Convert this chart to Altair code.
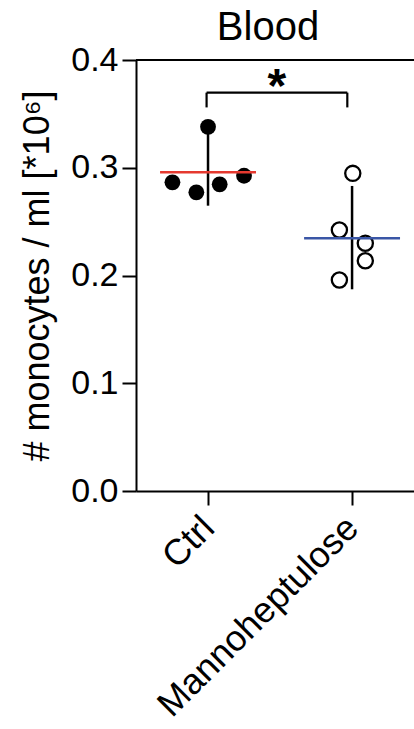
import json
import altair as alt
import pandas as pd

# ---- data ----
groups = ["Ctrl", "Mannoheptulose"]
group_pos = [0.5, 1.5]
ctrl_values = [0.338, 0.2865, 0.2772, 0.2846, 0.2926]
ctrl_jitter = [0.0, -0.247, -0.081, 0.081, 0.25]
manno_values = [0.2948, 0.2422, 0.2299, 0.2137, 0.1958]
manno_jitter = [0.005, -0.088, 0.092, 0.092, -0.088]
means = [0.2958, 0.2345]
err_low = [0.2648, 0.1872]
err_high = [0.3366, 0.2831]
mean_colors = ["#e5392f", "#3a56a6"]
y_ticks = [0.0, 0.1, 0.2, 0.3, 0.4]
x_max = 1.93
mean_half = 0.333
bracket_y = 0.3697
bracket_foot = 0.356
bracket_x = [0.49, 1.467]
star_x = 0.977
star_y = 0.361

FONT = "Liberation Sans"

pts = pd.DataFrame(
    {
        "group": [groups[0]] * len(ctrl_values) + [groups[1]] * len(manno_values),
        "x": [group_pos[0] + j for j in ctrl_jitter] + [group_pos[1] + j for j in manno_jitter],
        "y": ctrl_values + manno_values,
    }
)
stats = pd.DataFrame(
    {
        "group": groups,
        "x": group_pos,
        "xl": [p - mean_half for p in group_pos],
        "xr": [p + mean_half for p in group_pos],
        "mean": means,
        "lo": err_low,
        "hi": err_high,
    }
)

xscale = alt.Scale(domain=[0, x_max], nice=False, zero=False)
yscale = alt.Scale(domain=[0, 0.4], nice=False, zero=True)

label_expr = f"{json.dumps(groups)}[round(datum.value - 0.5)]"

x_axis = alt.Axis(
    values=group_pos,
    labelExpr=label_expr,
    title=None,
    grid=False,
    labelAngle=-45,
    labelAlign="right",
    labelBaseline="middle",
    labelFontSize=36,
    labelFont=FONT,
    labelColor="black",
    labelPadding=17,
    labelLimit=0,
    tickSize=14,
    tickWidth=2,
    tickColor="black",
    domainWidth=2,
    domainColor="black",
)
Y_TITLE = "# monocytes / ml [*10⁶]"
y_axis = alt.Axis(
    values=y_ticks,
    format=".1f",
    title=Y_TITLE,
    titleFontSize=36,
    titleFont=FONT,
    titleFontWeight="normal",
    titleColor="black",
    titlePadding=14,
    grid=False,
    labelFontSize=34,
    labelFont=FONT,
    labelColor="black",
    labelPadding=4,
    tickSize=14,
    tickWidth=2,
    tickColor="black",
    domainWidth=2,
    domainColor="black",
)


def X(field):
    return alt.X(field, scale=xscale, axis=x_axis, title=None)


def Y(field):
    return alt.Y(field, scale=yscale, axis=y_axis, title=Y_TITLE)


top_line = (
    alt.Chart(pd.DataFrame({"x": [0.0], "x2": [x_max], "y": [0.4]}))
    .mark_rule(color="black", strokeWidth=2)
    .encode(x=X("x:Q"), x2="x2:Q", y=Y("y:Q"))
)

filled = (
    alt.Chart(pts[pts.group == groups[0]])
    .mark_circle(size=250, color="black", opacity=1)
    .encode(x=X("x:Q"), y=Y("y:Q"))
)
open_pts = (
    alt.Chart(pts[pts.group == groups[1]])
    .mark_point(shape="circle", size=230, color="black", filled=False, strokeWidth=2.3, opacity=1)
    .encode(x=X("x:Q"), y=Y("y:Q"))
)

err = (
    alt.Chart(stats)
    .mark_rule(color="black", strokeWidth=2.5)
    .encode(x=X("x:Q"), y=Y("lo:Q"), y2="hi:Q")
)

mean_lines = (
    alt.Chart(stats)
    .mark_rule(strokeWidth=2.5)
    .encode(
        x=X("xl:Q"),
        x2="xr:Q",
        y=Y("mean:Q"),
        color=alt.Color("group:N", scale=alt.Scale(domain=groups, range=mean_colors), legend=None),
    )
)

bracket_df = pd.DataFrame(
    {
        "x": [bracket_x[0], bracket_x[0], bracket_x[1]],
        "x2": [bracket_x[1], bracket_x[0], bracket_x[1]],
        "y": [bracket_y, bracket_foot, bracket_foot],
        "y2": [bracket_y, bracket_y, bracket_y],
    }
)
bracket = (
    alt.Chart(bracket_df)
    .mark_rule(color="black", strokeWidth=2.2)
    .encode(x=X("x:Q"), x2="x2:Q", y=Y("y:Q"), y2="y2:Q")
)

star = (
    alt.Chart(pd.DataFrame({"x": [star_x], "y": [star_y], "t": ["*"]}))
    .mark_text(font=FONT, fontSize=48, fontWeight="bold", color="black", align="center", baseline="alphabetic")
    .encode(x=X("x:Q"), y=Y("y:Q"), text="t:N")
)

chart = (
    alt.layer(filled, top_line, err, open_pts, mean_lines, bracket, star)
    .properties(
        width=278,
        height=431,
        autosize="none",
        padding={"left": 136, "top": 60, "right": 0, "bottom": 238},
        title=alt.TitleParams(
            "Blood",
            fontSize=40,
            font=FONT,
            fontWeight="normal",
            color="black",
            anchor="middle",
            offset=-5,
            dx=-7,
        ),
    )
    .configure_view(strokeWidth=0)
    .configure(background="white")
)

chart.save("out.html", embed_options={"renderer": "svg", "actions": False})
